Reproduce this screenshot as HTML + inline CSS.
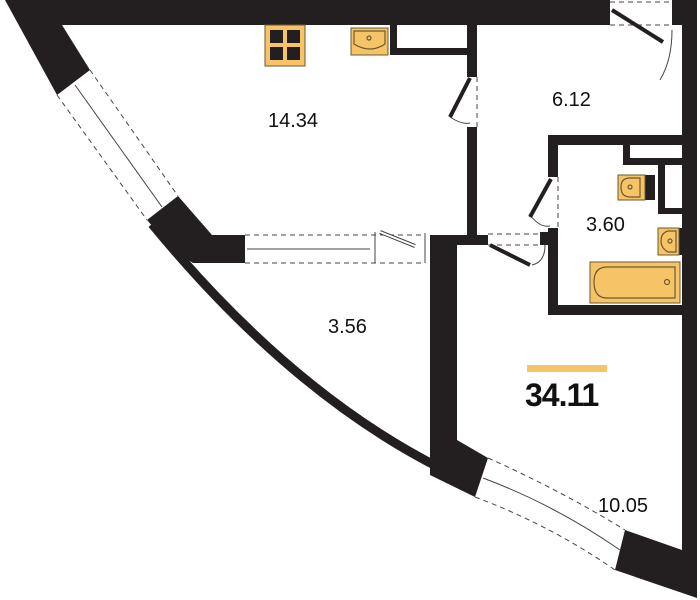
<!DOCTYPE html>
<html><head><meta charset="utf-8"><style>
html,body{margin:0;padding:0;background:#fff;}
svg{display:block}
text{font-family:"Liberation Sans",sans-serif;fill:#111}
</style></head><body>
<svg width="700" height="600" viewBox="0 0 700 600" xmlns="http://www.w3.org/2000/svg">
<g fill="#231f20">
<polygon points="5,0 610,0 610,25 62,25 90,70 57,95"/>
<polygon points="147,220 178,196 212,235 245,235 245,263 193,263 175,252"/>
<path d="M152,224 Q290,392 440,468" stroke="#231f20" stroke-width="9" fill="none"/>
<rect x="430" y="235" width="27" height="222"/>
<polygon points="430,450 457,440 488,458 475,497 430,475"/>
<polygon points="672,0 697,0 697,598 615,570 625,530 682,550 682,25 672,25"/>
<rect x="467" y="25" width="10" height="52"/>
<rect x="467" y="127" width="10" height="118"/>
<rect x="430" y="235" width="47" height="10"/>
<rect x="390" y="25" width="7" height="30"/>
<rect x="390" y="48" width="77" height="7"/>
<rect x="477" y="235" width="11" height="10"/>
<rect x="540" y="232" width="18" height="13"/>
<rect x="548" y="135" width="134" height="10"/>
<rect x="548" y="135" width="10" height="42"/>
<rect x="548" y="228" width="10" height="87"/>
<rect x="548" y="305" width="134" height="10"/>
<rect x="623" y="143" width="7" height="22"/>
<rect x="623" y="158" width="59" height="7"/>
<rect x="658" y="163" width="7" height="51"/>
<rect x="658" y="208" width="24" height="6"/>
<rect x="645" y="175" width="10" height="25"/>
<rect x="679" y="228" width="4" height="27"/>
</g>
<g stroke="#444" stroke-width="1" fill="none" stroke-dasharray="5,4">
<line x1="57" y1="95" x2="147" y2="220"/>
<line x1="90" y1="70" x2="178" y2="196"/>
<line x1="245" y1="235" x2="425" y2="235"/>
<line x1="245" y1="263" x2="425" y2="263"/>
<path d="M488,458 Q560,490 625,530"/>
<path d="M475,497 Q550,525 615,570"/>
<line x1="477" y1="77" x2="477" y2="127"/>
<line x1="558" y1="177" x2="558" y2="228"/>
<line x1="488" y1="234" x2="540" y2="234"/>
<line x1="488" y1="245" x2="540" y2="245"/>
<line x1="610" y1="25" x2="672" y2="25"/>
<line x1="610" y1="2" x2="672" y2="2"/>
</g>
<g stroke="#444" stroke-width="1" fill="none">
<line x1="75" y1="85" x2="162" y2="207"/>
<line x1="247" y1="249" x2="370" y2="249"/>
<path d="M483,478 Q555,505 620,550"/>
<line x1="375" y1="232" x2="375" y2="263"/>
<path d="M380,232 L415,246" stroke-width="4"/>
<path d="M380,232 L415,246" stroke="#fff" stroke-width="2"/>
<line x1="425" y1="233" x2="425" y2="263"/>
<path d="M450,117 Q462,125 470,123"/>
<path d="M530,215 Q540,228 550,226"/>
<path d="M532,265 Q545,262 545,245"/>
<path d="M660,80 Q672,60 672,30"/>
</g>
<g stroke="#231f20" stroke-width="4">
<line x1="470" y1="78" x2="450" y2="117"/>
<line x1="551" y1="179" x2="530" y2="217"/>
<line x1="490" y1="245" x2="530" y2="265"/>
<line x1="612" y1="10" x2="663" y2="42"/>
</g>
<g fill="#f6c467" stroke="#6b5a30" stroke-width="1">
<rect x="265" y="25" width="40" height="41"/>
<rect x="351" y="28" width="37" height="27"/>
<rect x="618" y="175" width="27" height="25"/>
<rect x="658" y="228" width="21" height="27"/>
<rect x="590" y="262" width="90" height="41"/>
</g>
<g fill="#231f20"><rect x="270" y="30" width="13" height="13"/><rect x="287" y="30" width="13" height="13"/><rect x="270" y="47" width="13" height="13"/><rect x="287" y="47" width="13" height="13"/></g>
<g fill="none" stroke="#6b5a30" stroke-width="1.2">
<path d="M354,31 H385 V44 Q370,54 354,44 Z"/><circle cx="369" cy="38" r="2"/>
<path d="M640,178 V197 H630 Q621,197 621,187 Q621,178 630,178 Z"/><circle cx="630" cy="187" r="2"/>
<path d="M676,231 V252 H668 Q661,248 661,241 Q661,233 668,231 Z"/><circle cx="670" cy="241" r="2"/>
<path d="M607,267 H675 V298 H607 Q594,298 594,282 Q594,267 607,267 Z"/><circle cx="667" cy="282" r="2.5"/>
</g>
<g font-size="20">
<text x="268" y="127">14.34</text>
<text x="552" y="106">6.12</text>
<text x="586" y="231">3.60</text>
<text x="328" y="333">3.56</text>
<text x="598" y="512">10.05</text>
</g>
<rect x="527" y="365" width="80" height="7" fill="#f6c467"/>
<text x="525" y="406" font-size="32" font-weight="bold" letter-spacing="-1">34.11</text>
</svg>
</body></html>
